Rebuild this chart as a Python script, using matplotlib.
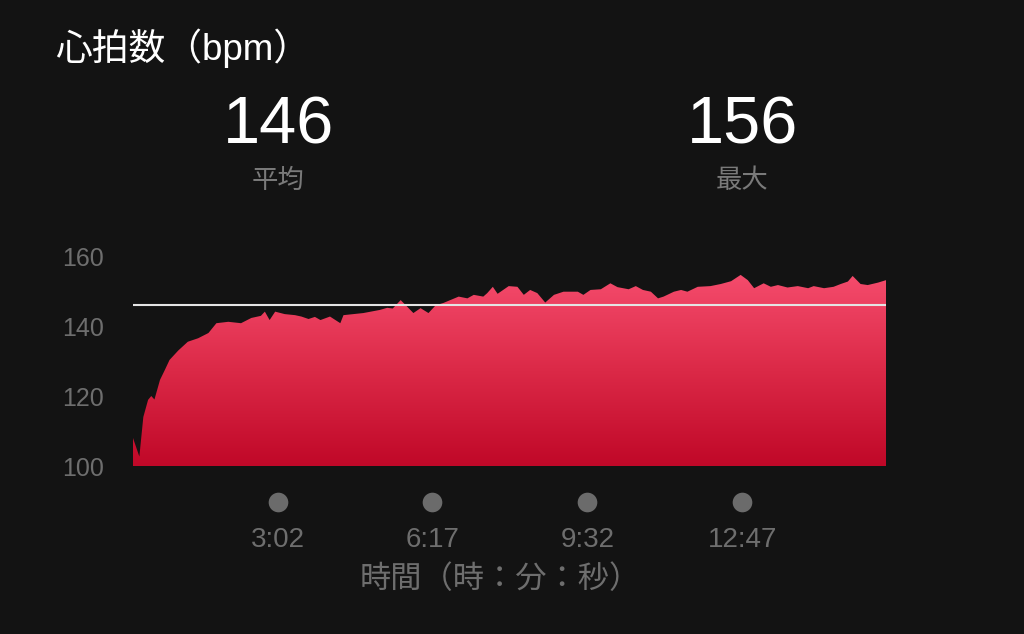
import numpy as np
import matplotlib
matplotlib.use('Agg')
from matplotlib import pyplot as plt
from matplotlib.colors import LinearSegmentedColormap
import matplotlib.transforms as mtransforms

plt.rcParams['font.family'] = ['Liberation Sans', 'Noto Sans CJK JP', 'DejaVu Sans']

# heart rate samples (seconds, bpm)
secs = [0, 8, 13, 19, 23, 27, 34, 40, 46, 57, 69, 82, 95, 105, 120, 136, 149, 161,
        166, 172, 179, 191, 204, 212, 221, 229, 236, 248, 261, 265, 290, 311, 320,
        327, 337, 353, 362, 372, 381, 391, 410, 421, 429, 441, 446, 453, 459, 473,
        484, 492, 500, 509, 519, 530, 542, 560, 567, 576, 589, 601, 610, 624, 633,
        642, 652, 661, 668, 681, 690, 698, 711, 727, 740, 753, 765, 774, 782, 794,
        803, 812, 824, 837, 850, 857, 870, 882, 891, 900, 906, 916, 925, 938, 948]
bpm = [108, 102.7, 114, 118.9, 120, 119, 124.6, 127.4, 130.3, 133, 135.5, 136.5, 138,
       140.8, 141.2, 140.8, 142.3, 142.9, 144.1, 141.7, 144.1, 143.4, 143.1, 142.7,
       142, 142.6, 141.7, 142.7, 140.8, 143.1, 143.7, 144.6, 145.2, 145, 147.4, 143.7,
       145.1, 143.7, 145.9, 146.6, 148.4, 147.9, 148.9, 148.4, 149.4, 151.2, 149.2,
       151.4, 151.2, 148.9, 150.3, 149.4, 146.7, 148.9, 149.8, 149.8, 148.9, 150.3,
       150.5, 152.2, 151.1, 150.5, 151.4, 150.3, 149.8, 147.9, 148.4, 149.8, 150.3,
       149.8, 151.2, 151.4, 152, 152.8, 154.6, 153.1, 150.8, 152.2, 151.2, 151.7,
       151, 151.4, 150.8, 151.4, 150.8, 151.2, 152, 152.7, 154.3, 152, 151.7, 152.4,
       153.1]

avg_bpm = 146
max_bpm = 156
tick_secs = [182, 377, 572, 767]
tick_labels = ['3:02', '6:17', '9:32', '12:47']
y_ticks = [100, 120, 140, 160]

bg = '#131313'
gray = '#6e6e6e'
fig = plt.figure(figsize=(10.24, 6.34), dpi=100, facecolor=bg)
ax = fig.add_axes([133/1024, 1 - 466/634, 753/1024, 210/634])
ax.set_facecolor(bg)
ax.set_xlim(0, secs[-1])
ax.set_ylim(100, 160)

# gradient fill clipped by the area
poly = ax.fill_between(secs, bpm, 100, color='none', lw=0)
cmap = LinearSegmentedColormap.from_list('hr', ['#c00828', '#dc2a48', '#f64d6e'])
grad = np.linspace(0, 1, 256).reshape(-1, 1)
img = ax.imshow(grad, cmap=cmap, aspect='auto', origin='lower',
                extent=[0, secs[-1], 100, 156], zorder=1)
path = poly.get_paths()[0]
img.set_clip_path(path, transform=ax.transData)

ax.axhline(avg_bpm, color='#e4e4e4', lw=1.5, zorder=3)

for s in ax.spines.values():
    s.set_visible(False)
ax.set_xticks([])
ax.set_yticks(y_ticks)
ax.set_yticklabels([str(v) for v in y_ticks])
ax.tick_params(axis='y', length=0, pad=21, labelsize=18, labelcolor=gray)

# x tick dots and labels
trans = mtransforms.blended_transform_factory(ax.transData, ax.transAxes)
ax.scatter(tick_secs, [-0.173] * len(tick_secs), s=200, color='#6b6b6b',
           transform=trans, clip_on=False, lw=0)
for t, lab in zip(tick_secs, tick_labels):
    ax.text(t, -0.352, lab, transform=trans, ha='center', va='center',
            fontsize=20, color=gray)

fig.text(500/1024, 1 - 580/634, '時間（時：分：秒）', ha='center', va='center',
         fontsize=22.5, color=gray)

fig.text(55/1024, 1 - 48/634, '心拍数（bpm）', ha='left', va='center',
         fontsize=26.5, color='white')

fig.text(278/1024, 1 - 126/634, str(avg_bpm), ha='center', va='center',
         fontsize=48, color='white')
fig.text(278/1024, 1 - 181/634, '平均', ha='center', va='center',
         fontsize=19, color='#7a7a7a')
fig.text(742/1024, 1 - 126/634, str(max_bpm), ha='center', va='center',
         fontsize=48, color='white')
fig.text(742/1024, 1 - 181/634, '最大', ha='center', va='center',
         fontsize=19, color='#7a7a7a')

fig.savefig('out.png', dpi=100, facecolor=bg)
